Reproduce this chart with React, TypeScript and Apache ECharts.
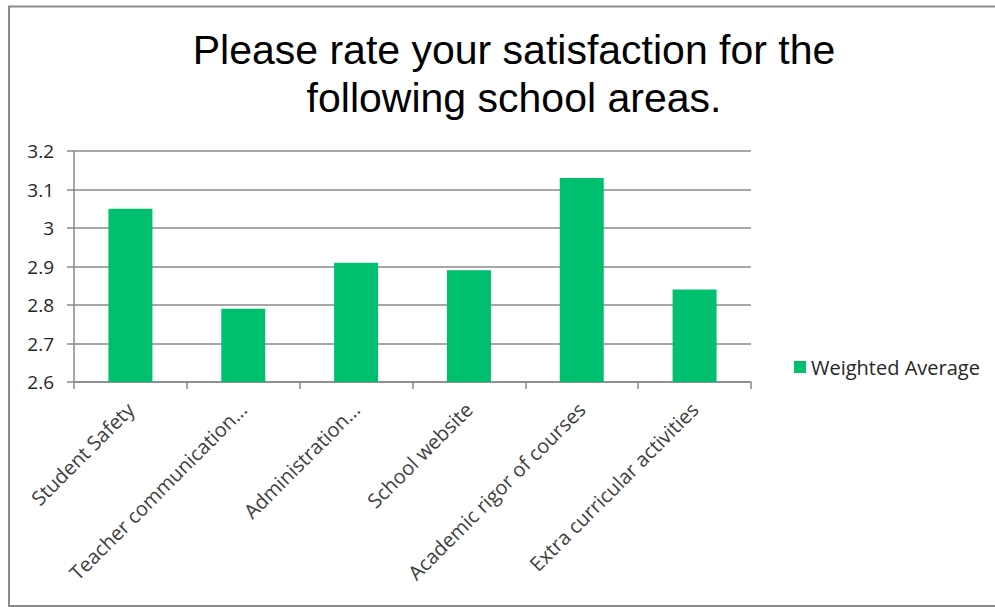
import React, { useEffect, useRef } from "react";
import * as echarts from "echarts";

const titleText = "Please rate your satisfaction for the\nfollowing school areas.";
const categories = [
  "Student Safety",
  "Teacher communication...",
  "Administration...",
  "School website",
  "Academic rigor of courses",
  "Extra curricular activities",
];
const seriesName = "Weighted Average";
const weightedAverage = [3.05, 2.79, 2.91, 2.89, 3.13, 2.84];
const yMin = 2.6;
const yMax = 3.2;
const yInterval = 0.1;

const LABEL_FONT = "'Open Sans', 'DejaVu Sans', sans-serif";
const LINE_COLOR = "#8a8a8a";

export default function App() {
  const ref = useRef<HTMLDivElement>(null);
  useEffect(() => {
    if (!ref.current) return;
    const chart = echarts.init(ref.current, undefined, { renderer: "svg" });
    chart.setOption({
      animation: false,
      backgroundColor: "#ffffff",
      title: {
        text: titleText,
        left: 509,
        top: 21,
        textAlign: "center",
        textStyle: {
          fontFamily: "'Liberation Sans', Arial, sans-serif",
          fontSize: 41,
          fontWeight: "normal",
          lineHeight: 48,
          color: "#000000",
        },
      },
      legend: {
        left: 789,
        top: 352,
        icon: "rect",
        itemWidth: 12,
        itemHeight: 12,
        textStyle: { fontFamily: LABEL_FONT, fontSize: 20, color: "#262626" },
        data: [seriesName],
      },
      grid: { left: 74, top: 151, right: 244, bottom: 225, containLabel: false },
      xAxis: {
        type: "category",
        data: categories,
        axisLine: { lineStyle: { color: LINE_COLOR, width: 1.5 } },
        axisTick: { show: true, length: 7, lineStyle: { color: LINE_COLOR, width: 1.5 } },
        axisLabel: {
          rotate: 45,
          interval: 0,
          margin: 24,
          fontFamily: LABEL_FONT,
          fontSize: 20,
          color: "#404040",
        },
      },
      yAxis: {
        type: "value",
        min: yMin,
        max: yMax,
        interval: yInterval,
        axisLine: { show: true, lineStyle: { color: LINE_COLOR, width: 1.5 } },
        axisTick: { show: true, length: 7, lineStyle: { color: LINE_COLOR, width: 1.5 } },
        splitLine: { show: true, lineStyle: { color: LINE_COLOR, width: 1.5 } },
        axisLabel: {
          margin: 20,
          fontFamily: LABEL_FONT,
          fontSize: 19,
          color: "#262626",
          formatter: (v: number) => String(+v.toFixed(1)),
        },
      },
      series: [
        {
          name: seriesName,
          type: "bar",
          data: weightedAverage,
          barWidth: 44,
          itemStyle: { color: "#00BF6F" },
        },
      ],
      graphic: [
        {
          type: "rect",
          shape: { x: 9, y: 6.5, width: 990, height: 599.5 },
          style: { fill: "none", stroke: "#8a8a8a", lineWidth: 2 },
          silent: true,
        },
      ],
    });
    return () => chart.dispose();
  }, []);
  return (
    <div
      ref={ref}
      style={{ position: "absolute", left: 0, top: 0, width: 995, height: 607 }}
    />
  );
}
